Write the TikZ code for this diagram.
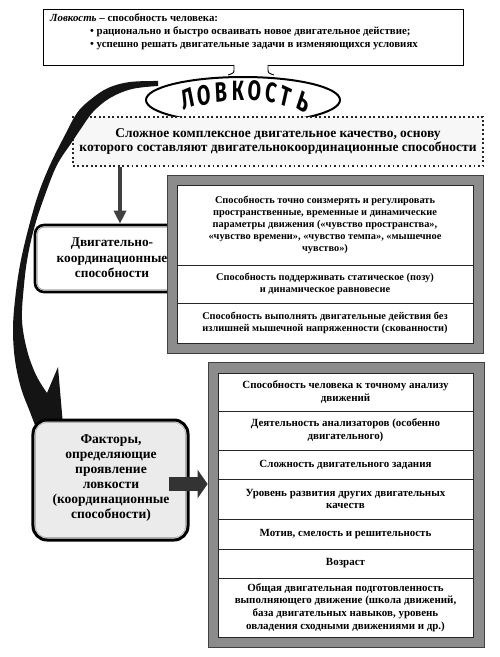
\documentclass[tikz,border=0pt]{standalone}
\usepackage{fontspec}
\setmainfont{Liberation Serif}
\newfontfamily\lovfont{Fira Sans}
\usetikzlibrary{shapes.geometric,arrows.meta}
\newcommand\rowfont{\bfseries\fontsize{10.4}{12.2}\selectfont}
\newcommand\rowfontb{\bfseries\fontsize{11}{12.7}\selectfont}
\begin{document}
\begin{tikzpicture}[x=1bp,y=-1bp,
  topbox/.style={draw=black, line width=0.8bp, fill=white, inner sep=0pt, minimum width=420bp, minimum height=56bp},
  frame/.style={draw=black!75, line width=0.8bp, fill=black!45, inner sep=0pt},
  row/.style={draw=black!85, line width=0.8bp, fill=white, inner sep=0pt, align=center, font=\rowfont},
  rowb/.style={row, font=\rowfontb},
  dotbox/.style={draw=black!85, line width=2bp, dash pattern=on 1.8bp off 2.7bp, fill=gray!6, inner sep=0pt, minimum width=410bp, minimum height=49bp, align=center, font=\bfseries\fontsize{13.5}{15}\selectfont},
  roundbox/.style={draw=black, line width=2.6bp, rounded corners=9bp, inner sep=0pt},
  boxtext/.style={inner sep=0pt, align=center, font=\bfseries\fontsize{13.4}{15.4}\selectfont},
  lovl/.style={font=\lovfont\bfseries\fontsize{28}{28}\selectfont, inner sep=0pt, xscale=0.7},
  darrow/.style={line width=4bp, draw=black!75, -{Triangle[width=12bp,length=13bp]}},
  barrow/.style={line width=14bp, draw=black!80, -{Triangle[width=28bp,length=10bp]}}
]
\useasboundingbox (0,0) rectangle (500,657);
\fill[white] (0,0) rectangle (500,657);

% top definition box
\node[topbox] (top) at (253,37) {};
\node[anchor=north west, align=left, inner sep=0pt, font=\bfseries\fontsize{10.9}{13.3}\selectfont] (toptext) at (50,13.5)
  {\textit{Ловкость} – способность человека:\\
   \hspace{40bp}• рационально и быстро осваивать новое двигательное действие;\\
   \hspace{40bp}• успешно решать двигательные задачи в изменяющихся условиях};

% neck between box and oval
\fill[white] (234,64) -- (268,64) -- (268,70) -- (274,78) -- (228,78) -- (234,70) -- cycle;
\draw[line width=0.9bp] (234,65) -- (234,69) .. controls (234,73) .. (228,75);
\draw[line width=0.9bp] (268,65) -- (268,69) .. controls (268,73) .. (274,75);

% oval
\node[ellipse, draw=black, line width=2bp, fill=white, minimum width=194bp, minimum height=46bp, inner sep=0pt] (lov) at (243,100) {};
\node[lovl, rotate=16] (l1) at (188,99) {Л};
\node[lovl, rotate=9]  (l2) at (204.5,95) {О};
\node[lovl, rotate=4]  (l3) at (221,92.5) {В};
\node[lovl, rotate=0]  (l4) at (238,91) {К};
\node[lovl, rotate=-5] (l5) at (255,91) {О};
\node[lovl, rotate=-11] (l6) at (271,93) {С};
\node[lovl, rotate=-18] (l7) at (286,96.5) {Т};
\node[lovl, rotate=-25] (l8) at (304,102) {Ь};

% dotted definition box
\node[dotbox] (def) at (278,141.5) {Сложное комплексное двигательное качество, основу\\которого составляют двигательнокоординационные способности};

% big curved arrow from the oval to the factors box
\fill[black!92]
  plot[smooth, tension=0.6] coordinates {(158,81) (130,82) (108,88) (90,100) (77,113) (65,135) (50,165) (38,195) (28,230) (20,265) (15,300) (13,330) (15,360) (21,388) (30,412) (38,433)}
  -- (63,425) -- (58,367) --
  plot[smooth, tension=0.6] coordinates {(47,393) (36,375) (27,350) (22,320) (24,285) (28,255) (35,225) (45,195) (57,165) (72,142) (80,130) (93,112) (110,98) (132,89) (158,86)}
  -- cycle;

% motor-coordination box
\node[roundbox, fill=white, minimum width=160bp, minimum height=67bp] (dv) at (115,258.5) {};
\draw[gray!70, line width=0.8bp, rounded corners=7bp] ([shift={(3.5,3.5)}]dv.north west) rectangle ([shift={(-3.5,-3.5)}]dv.south east);
\node[boxtext] (dvtext) at (112,258) {Двигательно-\\координационные\\способности};

% arrow from definition to motor-coordination box
\coordinate (ax) at (120,0);
\draw[darrow] (ax |- def.south) -- (ax |- dv.north);

% panel 1
\node[frame, minimum width=316bp, minimum height=178bp] (p1) at (325,264) {};
\node[row, minimum width=296bp, minimum height=80bp] (a1) at (325,225) {Способность точно соизмерять и регулировать\\пространственные, временные и динамические\\параметры движения («чувство пространства»,\\«чувство времени», «чувство темпа», «мышечное\\чувство»)};
\node[row, minimum width=296bp, minimum height=38bp] (a2) at (325,284) {Способность поддерживать статическое (позу)\\и динамическое равновесие};
\node[row, minimum width=296bp, minimum height=40bp] (a3) at (325,323) {Способность выполнять двигательные действия без\\излишней мышечной напряженности (скованности)};

% factors box
\node[roundbox, line width=3bp, rounded corners=14bp, fill=gray!16, minimum width=155bp, minimum height=120bp] (fac) at (110.5,480) {};
\draw[gray!60, line width=0.8bp, rounded corners=11bp] ([shift={(4,4)}]fac.north west) rectangle ([shift={(-4,-4)}]fac.south east);
\node[boxtext, font=\bfseries\fontsize{13.6}{15.2}\selectfont] (factext) at (111,478) {Факторы,\\определяющие\\проявление\\ловкости\\(координационные\\способности)};

% panel 2
\node[frame, minimum width=276bp, minimum height=285bp] (p2) at (346,504.5) {};
\node[rowb, minimum width=255bp, minimum height=38bp] (b1) at (345.5,392) {Способность человека к точному анализу\\движений};
\node[rowb, minimum width=255bp, minimum height=39bp] (b2) at (345.5,430.5) {Деятельность анализаторов (особенно\\двигательного)};
\node[rowb, minimum width=255bp, minimum height=29bp] (b3) at (345.5,464.5) {Сложность двигательного задания};
\node[rowb, minimum width=255bp, minimum height=40bp] (b4) at (345.5,499) {Уровень развития других двигательных\\качеств};
\node[rowb, minimum width=255bp, minimum height=30bp] (b5) at (345.5,534) {Мотив, смелость и решительность};
\node[rowb, minimum width=255bp, minimum height=29bp] (b6) at (345.5,563.5) {Возраст};
\node[rowb, minimum width=255bp, minimum height=59bp] (b7) at (345.5,607.5) {Общая двигательная подготовленность\\выполняющего движение (школа движений,\\база двигательных навыков, уровень\\овладения сходными движениями и др.)};

% block arrow from factors to panel 2
\coordinate (rs) at ([shift={(-21,4)}]fac.east);
\draw[barrow] (rs) -- (rs -| p2.west);
\end{tikzpicture}
\end{document}
